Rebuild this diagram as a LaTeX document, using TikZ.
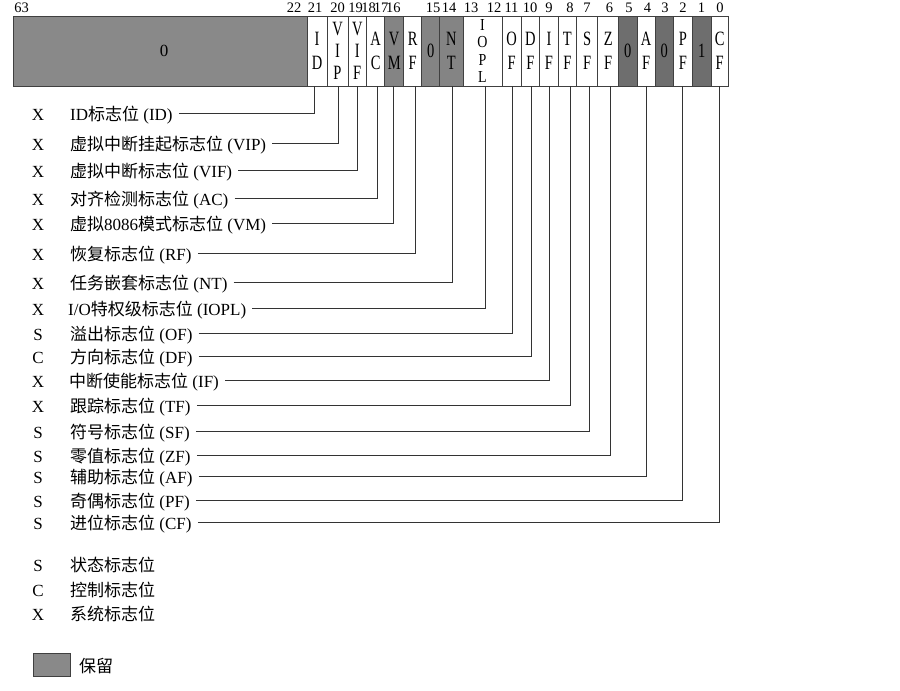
\documentclass[tikz,border=0pt]{standalone}
\usepackage{fontspec}
\setmainfont{Liberation Serif}
\newfontfamily\cjk{Noto Sans CJK SC}
\newcommand\zh[1]{{\cjk #1}}
\newcommand\tall[1]{\scalebox{1}[1.4]{#1}}
\newcommand\tallb[1]{\scalebox{1}[1.2]{#1}}
\definecolor{edge}{HTML}{404040}
\definecolor{linec}{HTML}{333333}
\definecolor{blockgray}{HTML}{898989}
\definecolor{resgray}{HTML}{848484}
\definecolor{darkres}{HTML}{6E6E6E}
\begin{document}
\begin{tikzpicture}[x=1pt,y=-1pt,
  cellbox/.style={draw=edge, line width=0.8pt, minimum height=70pt, inner sep=0pt, outer sep=0pt,
    anchor=north west, fill=white, align=center, font=\fontsize{14.5}{24}\selectfont},
  two/.style={font=\fontsize{14.5}{24}\selectfont},
  three/.style={font=\fontsize{14.5}{22.3}\selectfont},
  four/.style={font=\fontsize{14}{17.6}\selectfont},
  res/.style={fill=resgray},
  dres/.style={fill=darkres},
  bitnum/.style={font=\fontsize{14.5}{16}\selectfont, inner sep=0pt},
  lab/.style={anchor=west, inner xsep=6pt, inner ysep=0pt, text height=17pt, text depth=3pt,
    font=\fontsize{17}{20}\selectfont},
  typ/.style={inner sep=0pt, text height=17pt, text depth=3pt, font=\fontsize{17}{20}\selectfont},
  conn/.style={draw=linec, line width=1pt},
  legbox/.style={draw=edge, line width=0.9pt, fill=blockgray, minimum width=36.7pt, minimum height=22.7pt, inner sep=0pt}
]
\useasboundingbox (0,0) rectangle (900,691);

% ---------- register ----------
\node[cellbox, fill=blockgray, minimum width=294pt, font=\fontsize{17}{20}\selectfont] (cBLK) at (13,16) {\hspace*{8pt}0};
\node[cellbox, two, minimum width=20pt] (cID) at (cBLK.north east) {\tall{I}\\\tall{D}};
\node[cellbox, three, minimum width=21pt] (cVIP) at (cID.north east) {\tall{V}\\\tall{I}\\\tall{P}};
\node[cellbox, three, minimum width=18.5pt] (cVIF) at (cVIP.north east) {\tall{V}\\\tall{I}\\\tall{F}};
\node[cellbox, two, minimum width=18.2pt] (cAC) at (cVIF.north east) {\tall{A}\\\tall{C}};
\node[cellbox, two, res, minimum width=19pt] (cVM) at (cAC.north east) {\tall{V}\\\tall{M}};
\node[cellbox, two, minimum width=17.8pt] (cRF) at (cVM.north east) {\tall{R}\\\tall{F}};
\node[cellbox, res, minimum width=18.3pt] (c15) at (cRF.north east) {\tall{0}};
\node[cellbox, two, res, minimum width=23.2pt] (cNT) at (c15.north east) {\tall{N}\\\tall{T}};
\node[cellbox, four, minimum width=39pt] (cIOPL) at (cNT.north east) {\tallb{I}\\\tallb{O}\\\tallb{P}\\\tallb{L}};
\node[cellbox, two, minimum width=19.3pt] (cOF) at (cIOPL.north east) {\tall{O}\\\tall{F}};
\node[cellbox, two, minimum width=18.3pt] (cDF) at (cOF.north east) {\tall{D}\\\tall{F}};
\node[cellbox, two, minimum width=18.7pt] (cIF) at (cDF.north east) {\tall{I}\\\tall{F}};
\node[cellbox, two, minimum width=18.2pt] (cTF) at (cIF.north east) {\tall{T}\\\tall{F}};
\node[cellbox, two, minimum width=21.3pt] (cSF) at (cTF.north east) {\tall{S}\\\tall{F}};
\node[cellbox, two, minimum width=20.8pt] (cZF) at (cSF.north east) {\tall{Z}\\\tall{F}};
\node[cellbox, dres, minimum width=18.4pt] (c5) at (cZF.north east) {\tall{0}};
\node[cellbox, two, minimum width=18.3pt] (cAF) at (c5.north east) {\tall{A}\\\tall{F}};
\node[cellbox, dres, minimum width=17.7pt] (c3) at (cAF.north east) {\tall{0}};
\node[cellbox, two, minimum width=19.7pt] (cPF) at (c3.north east) {\tall{P}\\\tall{F}};
\node[cellbox, dres, minimum width=18.3pt] (c1) at (cPF.north east) {\tall{1}};
\node[cellbox, two, minimum width=17.5pt] (cCF) at (c1.north east) {\tall{C}\\\tall{F}};

% ---------- bit numbers ----------
\foreach \n/\x in {63/21.5, 22/294, 21/315, 20/337.5, 19/355.5, 18/368.5, 17/381, 16/393.3,
  15/433, 14/449, 13/471, 12/494, 11/511.5, 10/530, 9/549, 8/570, 7/587, 6/609.5,
  5/629, 4/647.5, 3/665, 2/683, 1/701.5, 0/720}
  \node[bitnum] (n\n) at (\x,8) {\n};

% ---------- flag labels ----------
\node[typ] (tID)   at (38,113)   {X}; \node[lab] (lID)   at (64,113)   {ID\zh{标志位} (ID)};
\node[typ] (tVIP)  at (38,143)   {X}; \node[lab] (lVIP)  at (64,143)   {\zh{虚拟中断挂起标志位} (VIP)};
\node[typ] (tVIF)  at (38,170)   {X}; \node[lab] (lVIF)  at (64,170)   {\zh{虚拟中断标志位} (VIF)};
\node[typ] (tAC)   at (38,198)   {X}; \node[lab] (lAC)   at (64,198)   {\zh{对齐检测标志位} (AC)};
\node[typ] (tVM)   at (38,223)   {X}; \node[lab] (lVM)   at (64,223)   {\zh{虚拟}8086\zh{模式标志位} (VM)};
\node[typ] (tRF)   at (38,253)   {X}; \node[lab] (lRF)   at (64,253)   {\zh{恢复标志位} (RF)};
\node[typ] (tNT)   at (38,282.7) {X}; \node[lab] (lNT)   at (64,282.7) {\zh{任务嵌套标志位} (NT)};
\node[typ] (tIOPL) at (38,308)   {X}; \node[lab] (lIOPL) at (62,308)   {I/O\zh{特权级标志位} (IOPL)};
\node[typ] (tOF)   at (38,333)   {S}; \node[lab] (lOF)   at (64,333)   {\zh{溢出标志位} (OF)};
\node[typ] (tDF)   at (38,356)   {C}; \node[lab] (lDF)   at (64,356)   {\zh{方向标志位} (DF)};
\node[typ] (tIF)   at (38,380)   {X}; \node[lab] (lIF)   at (63,380)   {\zh{中断使能标志位} (IF)};
\node[typ] (tTF)   at (38,405)   {X}; \node[lab] (lTF)   at (64,405)   {\zh{跟踪标志位} (TF)};
\node[typ] (tSF)   at (38,431.7) {S}; \node[lab] (lSF)   at (64,431.7) {\zh{符号标志位} (SF)};
\node[typ] (tZF)   at (38,455.7) {S}; \node[lab] (lZF)   at (64,455.7) {\zh{零值标志位} (ZF)};
\node[typ] (tAF)   at (38,476.7) {S}; \node[lab] (lAF)   at (64,476.7) {\zh{辅助标志位} (AF)};
\node[typ] (tPF)   at (38,500.7) {S}; \node[lab] (lPF)   at (64,500.7) {\zh{奇偶标志位} (PF)};
\node[typ] (tCF)   at (38,522.3) {S}; \node[lab] (lCF)   at (64,522.3) {\zh{进位标志位} (CF)};

% ---------- connectors ----------
\foreach \f/\dx in {ID/-3, VIP/1, VIF/0, AC/1.7, VM/-1, RF/2.4, NT/1, IOPL/2.5, OF/0.6,
  DF/1.2, IF/1, TF/2.6, SF/1.9, ZF/1.8, AF/0.5, PF/0, CF/0}
  \draw[conn] (l\f.east) -| ([xshift=\dx pt]c\f.south);

% ---------- legend ----------
\node[typ] (gS) at (38,564)   {S}; \node[lab] (gSl) at (64,564)   {\zh{状态标志位}};
\node[typ] (gC) at (38,589)   {C}; \node[lab] (gCl) at (64,589)   {\zh{控制标志位}};
\node[typ] (gX) at (38,613.5) {X}; \node[lab] (gXl) at (64,613.5) {\zh{系统标志位}};
\node[legbox] (gbox) at (51.65,664.65) {};
\node[lab] (gboxl) at (73,665) {\zh{保留}};
\end{tikzpicture}
\end{document}
